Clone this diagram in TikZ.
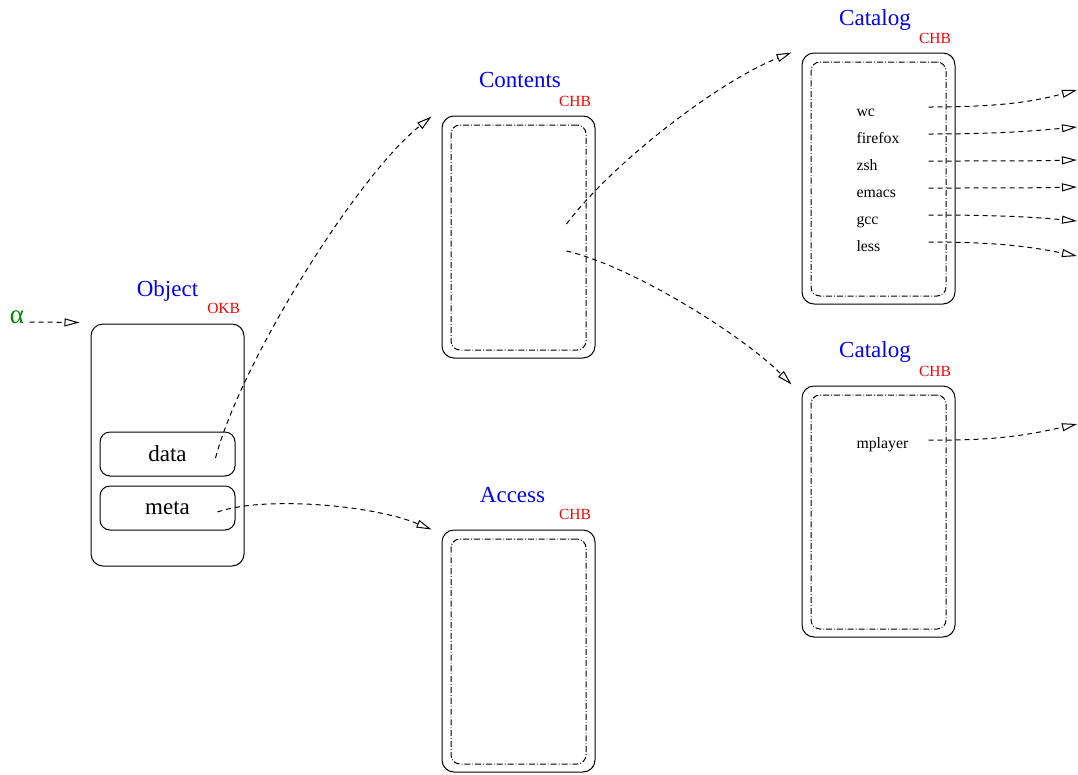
\documentclass[tikz,border=0pt]{standalone}
\usepackage{fontspec}
\setmainfont{Liberation Serif}
\usetikzlibrary{arrows.meta,calc}
\definecolor{figgreen}{RGB}{0,140,0}

\begin{document}
\begin{tikzpicture}[x=1pt,y=-1pt,line width=1pt,
		box/.style={draw,rounded corners=12pt,minimum width=153pt,minimum height=242pt,inner sep=0pt},
		tallbox/.style={box,minimum height=251pt},
		frame/.style={draw,rounded corners=9pt,dash pattern=on 6pt off 2pt on 0.8pt off 2pt,minimum width=135pt,minimum height=225pt,inner sep=0pt},
		tallframe/.style={frame,minimum height=234pt},
		field/.style={draw,rounded corners=10pt,minimum width=135pt,minimum height=44pt,inner sep=0pt,font=\fontsize{23}{27}\selectfont},
		boxname/.style={text=blue,font=\fontsize{23}{27}\selectfont,anchor=base,inner sep=0pt},
		kind/.style={text=red,font=\fontsize{15.5}{18}\selectfont,anchor=base east,inner sep=0pt},
		entry/.style={font=\fontsize{15.8}{18}\selectfont,anchor=base west,inner sep=0pt},
		link/.style={dash pattern=on 5pt off 4pt,-{Triangle[open,length=15pt,width=8pt]}}]
	\useasboundingbox (0,0) rectangle (1078,774);

	% object block
	\node[box] (obj) at (167.5,445) {};
	\node[boxname] at ([yshift=27pt]obj.north) {Object};
	\node[kind] at ([xshift=-4pt,yshift=10pt]obj.north east) {OKB};
	\node[field] (data) at (167.5,454) {data};
	\node[field] (meta) at (167.5,508) {meta};
	\node[text=figgreen,font=\fontsize{27}{30}\selectfont,anchor=base,inner sep=0pt] (alpha) at (17,323) {α};
	\draw[link] ([xshift=5pt,yshift=1pt]alpha.base east) -- ([xshift=-11pt,yshift=1pt]obj.north west);

	% hash blocks
	\node[box] (ctn) at (518.5,237) {};
	\node[frame] at (518.5,237.5) {};
	\node[boxname] at ([xshift=1.5pt,yshift=28pt]ctn.north) {Contents};
	\node[kind] at ([xshift=-4pt,yshift=9pt]ctn.north east) {CHB};

	\node[box] (acc) at (518.5,651) {};
	\node[frame] at (518.5,651.5) {};
	\node[boxname] at ([xshift=-6pt,yshift=27pt]acc.north) {Access};
	\node[kind] at ([xshift=-4pt,yshift=10pt]acc.north east) {CHB};

	\node[tallbox] (catA) at (878.5,178.5) {};
	\node[tallframe] at (878.5,179) {};
	\node[boxname] at ([xshift=-3.5pt,yshift=27pt]catA.north) {Catalog};
	\node[kind] at ([xshift=-4pt,yshift=9pt]catA.north east) {CHB};

	\node[tallbox] (catB) at (878.5,511.5) {};
	\node[tallframe] at (878.5,512) {};
	\node[boxname] at ([xshift=-3.5pt,yshift=28pt]catB.north) {Catalog};
	\node[kind] at ([xshift=-4pt,yshift=9pt]catB.north east) {CHB};

	\draw[link] ($(data.east)+(-20,4)$) .. controls +(25,-95) and +(-75,60) .. ($(ctn.north west)+(-10,1)$);
	\draw[link] ($(meta.east)+(-18,4)$) .. controls +(45,-16) and +(-60,-25) .. ($(acc.north west)+(-10,0)$);
	\draw[link] ($(ctn.center)+(48,-13)$) .. controls +(45,-60) and +(-75,30) .. ($(catA.north west)+(-10,0)$);
	\draw[link] ($(ctn.center)+(48,14)$) .. controls +(65,15) and +(-50,-50) .. ($(catB.north west)+(-10,-1)$);

	% catalog entries
	\coordinate (tapA) at ([xshift=-27pt]catA.east);
	\coordinate (tapB) at ([xshift=-27pt]catB.east);
	\foreach \n/\y/\yb/\d in {wc/116/90/12, firefox/143/127/4, zsh/170/160/1, emacs/197/187/1, gcc/224/221/-4, less/251/256/-9}{
		\node[entry] (\n) at (856,\y) {\n};
		\coordinate (\n-out) at (1077,\yb);
		\draw[link] ($(\n.base -| tapA)+(0,-9)$) .. controls +(70,0) and +(-45,\d) .. (\n-out);
	}
	\node[entry] (mplayer) at (856,448) {mplayer};
	\coordinate (mplayer-out) at (1077,424);
	\draw[link] ($(mplayer.base -| tapB)+(0,-8)$) .. controls +(70,1) and +(-45,10) .. (mplayer-out);
\end{tikzpicture}
\end{document}
